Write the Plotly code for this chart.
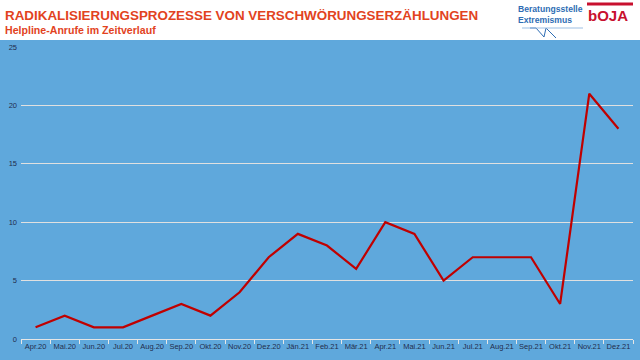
import plotly.graph_objects as go

months = ["Apr.20", "Mai.20", "Jun.20", "Jul.20", "Aug.20", "Sep.20", "Okt.20", "Nov.20",
          "Dez.20", "Jän.21", "Feb.21", "Mär.21", "Apr.21", "Mai.21", "Jun.21", "Jul.21",
          "Aug.21", "Sep.21", "Okt.21", "Nov.21", "Dez.21"]
calls = [1, 2, 1, 1, 2, 3, 2, 4, 7, 9, 8, 6, 10, 9, 5, 7, 7, 7, 3, 21, 18]
y_ticks = [0, 5, 10, 15, 20, 25]

W, H = 640, 360
ml, mr, mt, mb = 21, 7, 47, 21
pw, ph = W - ml - mr, H - mt - mb

def px(x):
    return (x - ml) / pw

def py(y):
    return (H - mb - y) / ph

BLUE = "#5FA8DC"
fig = go.Figure()
fig.add_trace(go.Scatter(x=months, y=calls, mode="lines",
                         line=dict(color="#C00000", width=2.2), hoverinfo="x+y"))

fig.add_shape(type="rect", xref="paper", yref="paper", x0=px(0), x1=px(W), y0=py(H), y1=py(40),
              fillcolor=BLUE, line=dict(width=0), layer="below")

# logo
fig.add_shape(type="line", xref="paper", yref="paper", x0=px(587), x1=px(633), y0=py(4), y1=py(4),
              line=dict(color="#C8102E", width=3))
fig.add_shape(type="path", xref="paper", yref="paper",
              path=f"M {px(530)} {py(28)} L {px(536)} {py(28)} L {px(544)} {py(37)} L {px(546)} {py(28)} L {px(556)} {py(38)}",
              line=dict(color="#2E6DB4", width=1))
fig.add_shape(type="line", xref="paper", yref="paper", x0=px(522), x1=px(583), y0=py(28), y1=py(28),
              line=dict(color="#9DBFE3", width=1))

anns = [
    dict(text="<b>RADIKALISIERUNGSPROZESSE VON VERSCHWÖRUNGSERZÄHLUNGEN</b>", x=px(4), y=py(15),
         font=dict(size=13.4, color="#E2431E", family="Liberation Sans")),
    dict(text="<b>Helpline-Anrufe im Zeitverlauf</b>", x=px(4), y=py(30),
         font=dict(size=10.6, color="#E2431E", family="Liberation Sans")),
    dict(text="<b>Beratungsstelle</b>", x=px(517), y=py(9),
         font=dict(size=8.6, color="#2E6DB4", family="Liberation Sans")),
    dict(text="<b>Extremismus</b>", x=px(517), y=py(20),
         font=dict(size=8.6, color="#2E6DB4", family="Liberation Sans")),
    dict(text="<b>bOJA</b>", x=px(587), y=py(16),
         font=dict(size=15, color="#C8102E", family="Liberation Sans")),
]
for a in anns:
    fig.add_annotation(xref="paper", yref="paper", xanchor="left", yanchor="middle",
                       showarrow=False, borderpad=0, **a)

fig.update_layout(
    width=W, height=H,
    margin=dict(l=ml, r=mr, t=mt, b=mb, autoexpand=False),
    paper_bgcolor="white",
    plot_bgcolor="rgba(0,0,0,0)",
    showlegend=False,
    font=dict(family="Liberation Sans", color="#1F2D4D"),
    xaxis=dict(type="category", range=[-0.5, len(months) - 0.5], tickson="boundaries",
               ticks="outside", ticklen=4, tickcolor="#E6E6E6", showline=True,
               linecolor="#E6E6E6", linewidth=1, showgrid=False, tickangle=0,
               automargin=False,
               tickfont=dict(size=7.5, color="#1F2D4D"), fixedrange=True),
    yaxis=dict(range=[0, 25], tickvals=y_ticks, showgrid=True, gridcolor="#E0E0E0",
               gridwidth=1, zeroline=False, ticks="", automargin=False,
               tickfont=dict(size=7.5, color="#1F2D4D"),
               ticklabelstandoff=3, fixedrange=True),
)

fig.write_html("out.html", config={"displayModeBar": False},
               post_script="document.body.style.margin='0';document.body.style.padding='0';")
